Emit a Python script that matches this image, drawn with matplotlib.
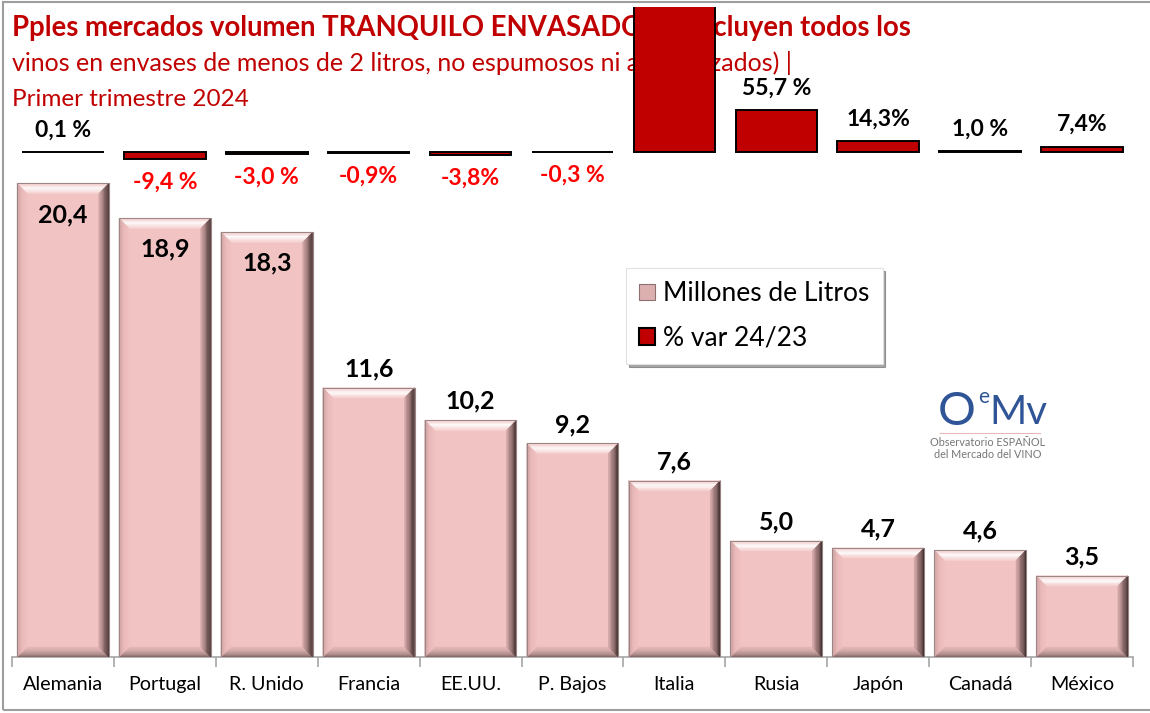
import matplotlib
matplotlib.use("Agg")
import matplotlib.pyplot as plt
import numpy as np
from matplotlib.patches import Polygon, Patch, Rectangle
import matplotlib.colors as mcolors

# ---------------- data ----------------
categories = ["Alemania", "Portugal", "R. Unido", "Francia", "EE.UU.", "P. Bajos",
              "Italia", "Rusia", "Japón", "Canadá", "México"]
millones_litros = [20.4, 18.9, 18.3, 11.6, 10.2, 9.2, 7.6, 5.0, 4.7, 4.6, 3.5]
var_pct = [0.1, -9.4, -3.0, -0.9, -3.8, -0.3, 240.0, 55.7, 14.3, 1.0, 7.4]  # Italia: off-chart, estimated
var_labels = ["0,1 %", "-9,4 %", "-3,0 %", "-0,9%", "-3,8%", "-0,3 %", "", "55,7 %", "14,3%", "1,0 %", "7,4%"]
vol_labels = ["20,4", "18,9", "18,3", "11,6", "10,2", "9,2", "7,6", "5,0", "4,7", "4,6", "3,5"]

title1 = "Pples mercados volumen TRANQUILO ENVASADO (se incluyen todos los"
title2 = "vinos en envases de menos de 2 litros, no espumosos ni aromatizados) |"
title3 = "Primer trimestre 2024"
legend_labels = ["Millones de Litros", "% var 24/23"]

# ---------------- style ----------------
FONT = "Lato"
W, H = 1150, 713
DARKRED = "#C00000"
PINK = "#F2C3C3"
TITLE_RED = "#C00000"

fig = plt.figure(figsize=(W / 100, H / 100), dpi=100)
fig.patch.set_facecolor("white")

def fx(px):
    return px / W

def fy(py):
    return 1 - py / H

ax_left, ax_right, ax_top, ax_bot = 12, 1133, 7, 657
ax = fig.add_axes([fx(ax_left), fy(ax_bot), fx(ax_right - ax_left), (ax_bot - ax_top) / H])
ax.patch.set_visible(False)
ax2 = ax.twinx()
ax2.patch.set_visible(False)

x = np.arange(len(categories))
ax.set_xlim(-0.5, len(categories) - 0.5)
ax.set_ylim(0, 28)
ax2.set_ylim(-664, 191)

# pixel scales
px_per_x = (ax_right - ax_left) / len(categories)
px_per_y = (ax_bot - ax_top) / 28.0

# ---- volume bars (beveled) ----
bars = ax.bar(x, millones_litros, width=0.9, color=PINK, edgecolor="#8d7878", linewidth=0.8, zorder=2)

def blend(c1, c2, t):
    a = np.array(mcolors.to_rgb(c1)); b = np.array(mcolors.to_rgb(c2))
    return tuple(a * (1 - t) + b * t)

bev = 10.0
nband = 8
sides = {
    "top": ["#f0c0c0", "#ffffff", "#f6d0d0"],
    "bottom": ["#7e6262", "#c7a0a0", "#e7b8b8"],
    "left": ["#c79d9d", "#eab9b9", "#f0c1c1"],
    "right": ["#3a2a2a", "#8e6d6d", "#d9adad"],
}
for b in bars:
    x0 = b.get_x(); x1 = x0 + b.get_width(); y0 = 0; y1 = b.get_height()
    bx = bev / px_per_x; by = bev / px_per_y
    for side, cols in sides.items():
        for i in range(nband):
            t0 = i / nband; t1 = (i + 1) / nband
            tm = (t0 + t1) / 2
            if tm < 0.5:
                col = blend(cols[0], cols[1], tm / 0.5)
            else:
                col = blend(cols[1], cols[2], (tm - 0.5) / 0.5)
            if side == "top":
                pts = [(x0 + bx * t0, y1 - by * t0), (x1 - bx * t0, y1 - by * t0),
                       (x1 - bx * t1, y1 - by * t1), (x0 + bx * t1, y1 - by * t1)]
            elif side == "bottom":
                pts = [(x0 + bx * t0, y0 + by * t0), (x1 - bx * t0, y0 + by * t0),
                       (x1 - bx * t1, y0 + by * t1), (x0 + bx * t1, y0 + by * t1)]
            elif side == "left":
                pts = [(x0 + bx * t0, y0 + by * t0), (x0 + bx * t0, y1 - by * t0),
                       (x0 + bx * t1, y1 - by * t1), (x0 + bx * t1, y0 + by * t1)]
            else:
                pts = [(x1 - bx * t0, y0 + by * t0), (x1 - bx * t0, y1 - by * t0),
                       (x1 - bx * t1, y1 - by * t1), (x1 - bx * t1, y0 + by * t1)]
            ax.add_patch(Polygon(pts, closed=True, facecolor=col, edgecolor=col, linewidth=0.3, zorder=3))
    ax.add_patch(Rectangle((x0, y0), x1 - x0, y1 - y0, fill=False, edgecolor="#9a8585", linewidth=0.7, zorder=4))

for b, v, lab in zip(bars, millones_litros, vol_labels):
    cx = b.get_x() + b.get_width() / 2
    dy = -31 if v > 15 else 19
    ax.annotate(lab, (cx, v), xytext=(0, dy * 0.72), textcoords="offset points",
                ha="center", va="center", fontsize=18, fontweight="bold", family=FONT, zorder=6)

# ---- % variation bars ----
rbars = ax2.bar(x, var_pct, width=0.8, color=DARKRED, edgecolor="black", linewidth=1.4, zorder=3)
for b, v, lab in zip(rbars, var_pct, var_labels):
    if not lab:
        continue
    cx = b.get_x() + b.get_width() / 2
    if v >= 0:
        ax2.annotate(lab, (cx, v), xytext=(0, 22 * 0.72), textcoords="offset points",
                     ha="center", va="center", fontsize=16.5, fontweight="bold", family=FONT,
                     color="black", zorder=6)
    else:
        ax2.annotate(lab, (cx, v), xytext=(0, -23 * 0.72), textcoords="offset points",
                     ha="center", va="center", fontsize=16.5, fontweight="bold", family=FONT,
                     color="#FF0000", zorder=6)

# ---- axes styling ----
for s in ["top", "left", "right"]:
    ax.spines[s].set_visible(False)
    ax2.spines[s].set_visible(False)
ax2.spines["bottom"].set_visible(False)
ax.spines["bottom"].set_color("#A6A6A6")
ax.spines["bottom"].set_linewidth(1.2)
ax.set_yticks([])
ax2.set_yticks([])
ax.set_xticks(x)
ax.set_xticklabels(categories, family=FONT, fontsize=14.2)
ax.tick_params(axis="x", which="major", length=0, pad=14)
ax.set_xticks(np.arange(-0.5, len(categories), 1.0), minor=True)
ax.tick_params(axis="x", which="minor", length=7, color="#A6A6A6", width=1.2)

# ---- legend ----
handles = [Patch(facecolor="#DDB0B0", edgecolor="#8d7070", linewidth=0.8),
           Patch(facecolor=DARKRED, edgecolor="black", linewidth=1.5)]
leg = ax2.legend(handles, legend_labels, loc="upper left",
                 bbox_to_anchor=(fx(626), fy(268)), bbox_transform=fig.transFigure,
                 prop={"family": FONT, "size": 19}, frameon=True, fancybox=False, shadow=True,
                 handlelength=0.6, handleheight=0.6, handletextpad=0.3, borderpad=0.5,
                 labelspacing=0.75, borderaxespad=0, framealpha=1)
leg.get_frame().set_edgecolor("#E0E0E0")
leg.get_frame().set_linewidth(0.8)
leg.set_zorder(10)

# ---- titles (behind the bars) ----
fig.text(fx(12), fy(27), title1, family=FONT, fontsize=19.8, fontweight="bold", color=TITLE_RED,
         ha="left", va="center", zorder=-1)
fig.text(fx(12), fy(63), title2, family=FONT, fontsize=18, color=TITLE_RED,
         ha="left", va="center", zorder=-1)
fig.text(fx(12), fy(100), title3, family=FONT, fontsize=17.5, color=TITLE_RED,
         ha="left", va="center", zorder=-1)

# ---- logo ----
LOGO = "#2F5597"
fig.text(fx(938), fy(412), "O", family=FONT, fontsize=34, color=LOGO, ha="left", va="center")
fig.text(fx(978), fy(397), "e", family=FONT, fontsize=15, color=LOGO, ha="left", va="center")
fig.text(fx(989), fy(412), "Mv", family=FONT, fontsize=29, color=LOGO, ha="left", va="center")
fig.add_artist(plt.Line2D([fx(940), fx(1040)], [fy(433), fy(433)], color="#E6B8B8", lw=0.8))
fig.text(fx(988), fy(442), "Observatorio ESPAÑOL", family=FONT, fontsize=7.8, color="#777777",
         ha="center", va="center")
fig.text(fx(988), fy(454), "del Mercado del VINO", family=FONT, fontsize=7.8, color="#777777",
         ha="center", va="center")

# ---- outer frame ----
fig.add_artist(Rectangle((fx(3), fy(710)), fx(1160), (708) / H, transform=fig.transFigure,
                         fill=False, edgecolor="#9E9E9E", linewidth=1.5))

fig.savefig("out.png", dpi=100, facecolor="white")
